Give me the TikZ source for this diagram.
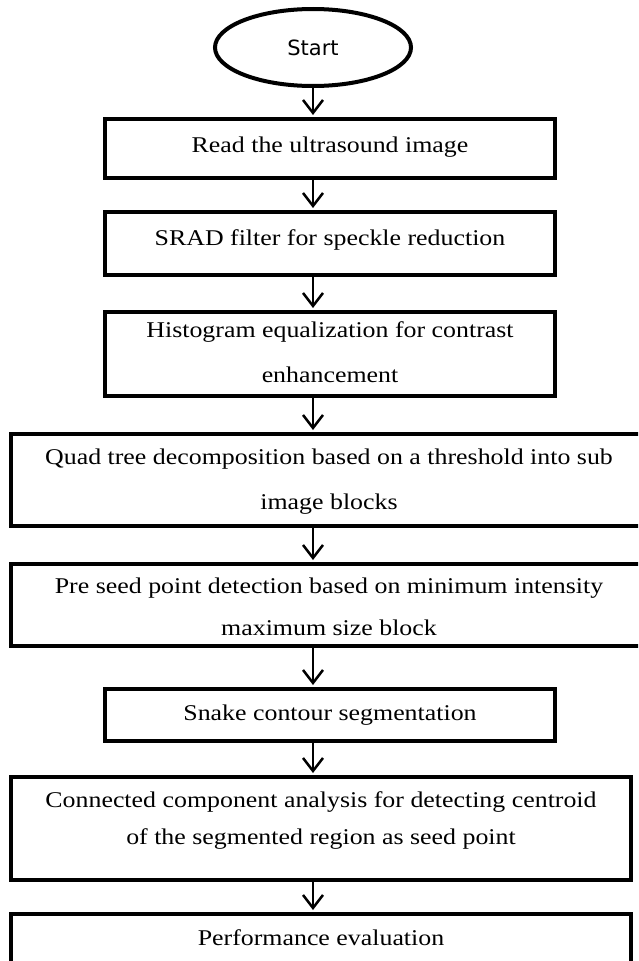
\documentclass[tikz,border=0pt]{standalone}
\usepackage{fontspec}
\setmainfont[FakeStretch=1.15]{Liberation Serif}
\newfontfamily\startfont{DejaVu Sans}
\usetikzlibrary{arrows.meta,shapes.geometric}
\begin{document}
\begin{tikzpicture}[x=1pt,y=-1pt,
  box/.style={draw, rectangle, line width=4pt, inner sep=0pt},
  txt/.style={align=center, inner sep=0pt, font=\fontsize{22.5}{45}\selectfont},
  arr/.style={line width=2.5pt, -{Straight Barb[length=13pt,width=20pt,line width=2.5pt]}, shorten >=2pt}]
\useasboundingbox (0,0) rectangle (638,961);
\clip (0,0) rectangle (638,961);
% start
\node[ellipse, draw, line width=4pt, minimum width=196pt, minimum height=77pt, inner sep=0pt] (start) at (313,47.5) {\startfont\fontsize{21}{25}\selectfont Start};
% boxes
\node[box, minimum width=450pt, minimum height=59pt] (b1) at (330,148.5) {};
\node[box, minimum width=450pt, minimum height=63pt] (b2) at (330,243.5) {};
\node[box, minimum width=450pt, minimum height=84pt] (b3) at (330,354) {};
\node[box, minimum width=637pt, minimum height=92pt] (b4) at (329.5,480) {};
\node[box, minimum width=637pt, minimum height=82pt] (b5) at (329.5,605) {};
\node[box, minimum width=450pt, minimum height=52pt] (b6) at (330,715) {};
\node[box, minimum width=620pt, minimum height=103pt] (b7) at (321,828.5) {};
\node[box, minimum width=620pt, minimum height=59pt] (b8) at (321,943.5) {};
% texts
\node[txt] (t1) at (330,147) {Read the ultrasound image};
\node[txt] (t2) at (330,240) {SRAD filter for speckle reduction};
\node[txt] (t3) at (330,352) {Histogram equalization for contrast\\enhancement};
\node[txt] (t4) at (329,482) {Quad tree decomposition based on a threshold into sub\\image blocks};
\node[txt, font=\fontsize{22.5}{42}\selectfont] (t5) at (329,607) {Pre seed point detection based on minimum intensity\\maximum size block};
\node[txt] (t6) at (330,715) {Snake contour segmentation};
\node[txt, font=\fontsize{22.5}{37}\selectfont] (t7) at (321,820) {Connected component analysis for detecting centroid\\of the segmented region as seed point};
\node[txt] (t8) at (321,938) {Performance evaluation};
% arrows
\draw[arr] (start.south) -- (b1.north -| start.south);
\draw[arr] (b1.south -| start.south) -- (b2.north -| start.south);
\draw[arr] (b2.south -| start.south) -- (b3.north -| start.south);
\draw[arr] (b3.south -| start.south) -- (b4.north -| start.south);
\draw[arr] (b4.south -| start.south) -- (b5.north -| start.south);
\draw[arr] (b5.south -| start.south) -- (b6.north -| start.south);
\draw[arr] (b6.south -| start.south) -- (b7.north -| start.south);
\draw[arr] (b7.south -| start.south) -- (b8.north -| start.south);
\end{tikzpicture}
\end{document}
